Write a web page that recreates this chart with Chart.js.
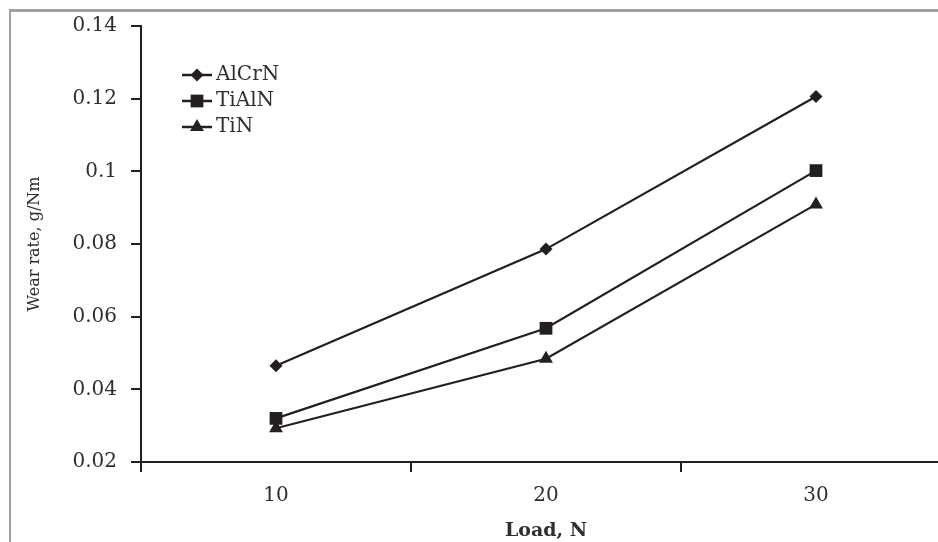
<!DOCTYPE html>
<html>
<head>
<meta charset="utf-8">
<script src="https://cdn.jsdelivr.net/npm/chart.js@4.4.1/dist/chart.umd.min.js"></script>
<style>
  html, body { margin: 0; padding: 0; background: #fff; }
  #clip { position: relative; width: 938px; height: 542px; overflow: hidden; }
  #wrap { position: absolute; left: 0; top: 0; width: 960px; height: 542px; }
  #frame { position: absolute; left: 9px; top: 9px; width: 1000px; height: 600px;
           border-left: 2px solid #a0a0a0; border-top: 3px solid #a0a0a0; pointer-events: none; }
</style>
</head>
<body>
<div id="clip">
  <div id="frame"></div>
  <div id="wrap"><canvas id="wearChart" width="960" height="542"></canvas></div>
</div>
<script>
// ---- data ----
const loads = ['10', '20', '30'];
const alcrnRate = [0.0465, 0.0786, 0.1206];
const tialnRate = [0.032, 0.0568, 0.1002];
const tinRate = [0.0293, 0.0484, 0.0909];
const yTickLabels = ['0.02', '0.04', '0.06', '0.08', '0.1', '0.12', '0.14'];

const ink = '#231f20';
const txt = '#2e2e2e';
const serif = "'DejaVu Serif', 'Liberation Serif', serif";

const makeSet = (label, data, style, radius) => ({
  label,
  data,
  borderColor: ink,
  backgroundColor: ink,
  borderWidth: 2.2,
  pointStyle: style,
  pointRadius: radius,
  pointHoverRadius: radius,
  pointBorderWidth: 0,
  tension: 0
});

// legend drawn inside the plot, line + marker like the original
const insideLegend = {
  id: 'insideLegend',
  afterDraw(chart) {
    const ctx = chart.ctx;
    const rows = [75, 101, 127];
    chart.data.datasets.forEach((ds, i) => {
      const y = rows[i];
      ctx.save();
      ctx.strokeStyle = ink;
      ctx.lineWidth = 2.5;
      ctx.beginPath();
      ctx.moveTo(182, y);
      ctx.lineTo(212, y);
      ctx.stroke();
      ctx.fillStyle = ink;
      const r = ds.pointRadius;
      ctx.beginPath();
      if (ds.pointStyle === 'rectRot') {
        ctx.moveTo(197, y - r); ctx.lineTo(197 + r, y); ctx.lineTo(197, y + r); ctx.lineTo(197 - r, y);
      } else if (ds.pointStyle === 'rect') {
        const s = r * Math.SQRT1_2;
        ctx.rect(197 - s, y - s, 2 * s, 2 * s);
      } else {
        ctx.moveTo(197, y - r);
        ctx.lineTo(197 + r * 0.866, y + r * 0.5);
        ctx.lineTo(197 - r * 0.866, y + r * 0.5);
      }
      ctx.closePath();
      ctx.fill();
      ctx.fillStyle = txt;
      ctx.font = '20px ' + serif;
      ctx.textBaseline = 'middle';
      ctx.textAlign = 'left';
      ctx.fillText(ds.label, 216, y);
      ctx.restore();
    });
  }
};

window.onload = () => {
  new Chart(document.getElementById('wearChart'), {
    type: 'line',
    data: {
      labels: loads,
      datasets: [
        makeSet('AlCrN', alcrnRate, 'rectRot', 6.5),
        makeSet('TiAlN', tialnRate, 'rect', 9),
        makeSet('TiN', tinRate, 'triangle', 8)
      ]
    },
    options: {
      responsive: false,
      animation: false,
      devicePixelRatio: 1,
      layout: { padding: { left: 0, top: 22, right: 9, bottom: 0 } },
      plugins: {
        legend: { display: false },
        tooltip: { enabled: false }
      },
      scales: {
        x: {
          offset: true,
          afterFit: (s) => { s.height = 80; },
          grid: { offset: true, drawOnChartArea: false, drawTicks: true, tickLength: 10, color: ink, lineWidth: 2 },
          border: { display: true, color: ink, width: 2 },
          ticks: { color: txt, font: { family: serif, size: 20 }, padding: 12 },
          title: {
            display: true, text: 'Load, N', color: txt,
            font: { family: serif, size: 19, weight: 'bold' },
            padding: { top: 4, bottom: 0 }
          }
        },
        y: {
          min: 0.02,
          max: 0.14,
          afterFit: (s) => { s.width = 141; },
          ticks: {
            stepSize: 0.02,
            color: txt,
            font: { family: serif, size: 20 },
            padding: 14,
            callback: (v, i) => yTickLabels[i]
          },
          grid: { drawOnChartArea: false, drawTicks: true, tickLength: 10, color: ink, lineWidth: 2 },
          border: { display: true, color: ink, width: 2 },
          title: {
            display: true, text: 'Wear rate, g/Nm', color: txt,
            font: { family: serif, size: 16 },
            padding: { top: 25, bottom: 0 }
          }
        }
      }
    },
    plugins: [insideLegend]
  });
};
</script>
</body>
</html>
